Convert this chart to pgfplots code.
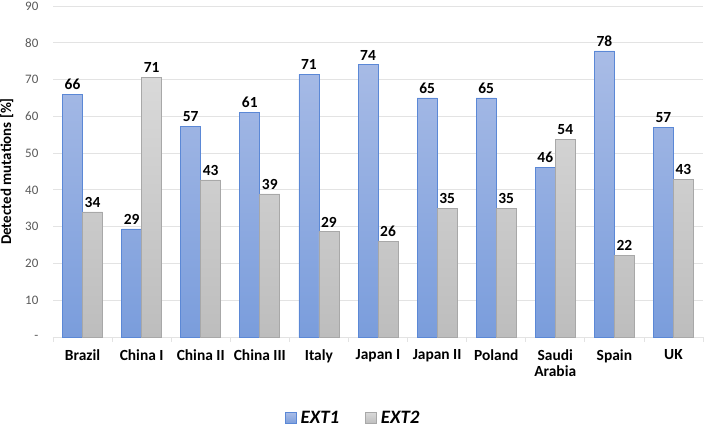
\documentclass[border=0pt]{standalone}
\usepackage{pgfplots}
\pgfplotsset{compat=1.18}
\usepackage{fontspec}
\setmainfont{Carlito}
\definecolor{bluetop}{HTML}{A9BCE6}
\definecolor{bluebot}{HTML}{7A9DDC}
\definecolor{blueedge}{HTML}{5B88D6}
\definecolor{greytop}{HTML}{D9D9D9}
\definecolor{greybot}{HTML}{BDBDBD}
\definecolor{greyedge}{HTML}{A8A8A8}
\definecolor{ticktext}{HTML}{595959}
\definecolor{gridc}{HTML}{E3E3E3}
\newcommand{\legfont}{\bfseries\itshape\fontsize{19}{20}\selectfont}
\begin{document}
\begin{tikzpicture}[x=1bp,y=1bp]
\useasboundingbox (-53,-90) rectangle (653,337);
\begin{axis}[
  scale only axis, width=650bp, height=331bp,
  ymin=0, ymax=90, ytick={0,10,20,30,40,50,60,70,80,90},
  yticklabels={-,10,20,30,40,50,60,70,80,90},
  xmin=-0.5, xmax=10.5, xtick={0,1,2,3,4,5,6,7,8,9,10},
  xticklabels={Brazil,China I,China II,China III,Italy,Japan I,Japan II,Poland,{Saudi\\Arabia},Spain,UK},
  /pgf/number format/assume math mode=true,
  xticklabel style={font=\bfseries\fontsize{15.5}{16}\selectfont, align=center, text=black, yshift=-5bp},
  yticklabel style={font=\fontsize{13}{14}\selectfont, text=ticktext, xshift=-9bp},
  axis lines=left,
  x axis line style={draw=gridc, line width=0.8bp, -},
  y axis line style={draw=none},
  tick style={draw=none},
  extra x ticks={-0.5,0.5,1.5,2.5,3.5,4.5,5.5,6.5,7.5,8.5,9.5,10.5},
  extra x tick labels={},
  extra x tick style={grid=none, tick align=outside, major tick length=5bp, tick style={draw=gridc, line width=0.8bp}},
  ymajorgrids, grid style={draw=gridc, line width=0.8bp},
  ybar=0pt, bar width=20bp,
  nodes near coords,
  every node near coord/.append style={font=\bfseries\fontsize{15.5}{16}\selectfont, text=black, /pgf/number format/fixed, /pgf/number format/precision=0, yshift=1bp},
  ylabel={Detected mutations [\%]},
  every axis y label/.style={at={(axis description cs:-0.071,0.5)}, rotate=90, anchor=center, font=\bfseries\fontsize{15}{16}\selectfont},
  legend style={at={(0.462,-0.245)}, anchor=center, draw=none, fill=none, legend columns=2,
    font=\legfont, nodes={font=\legfont}},
  legend image code/.code={\draw[#1, line width=0.6bp] (0bp,-5.5bp) rectangle (11bp,5.5bp); \path (13bp,0bp);},
]
\addplot[draw=blueedge, line width=0.7bp, top color=bluetop, bottom color=bluebot] coordinates {
(0,66.0) (1,29.4) (2,57.3) (3,61.1) (4,71.4) (5,74.0) (6,65.0) (7,65.0) (8,46.2) (9,77.8) (10,57.1)};
\addlegendentry{\legfont EXT1\hspace*{24bp}}
\addplot[draw=greyedge, line width=0.7bp, top color=greytop, bottom color=greybot] coordinates {
(0,34.0) (1,70.6) (2,42.7) (3,38.9) (4,28.6) (5,26.0) (6,35.0) (7,35.0) (8,53.8) (9,22.2) (10,42.9)};
\addlegendentry{\legfont EXT2}
\end{axis}
\end{tikzpicture}
\end{document}
